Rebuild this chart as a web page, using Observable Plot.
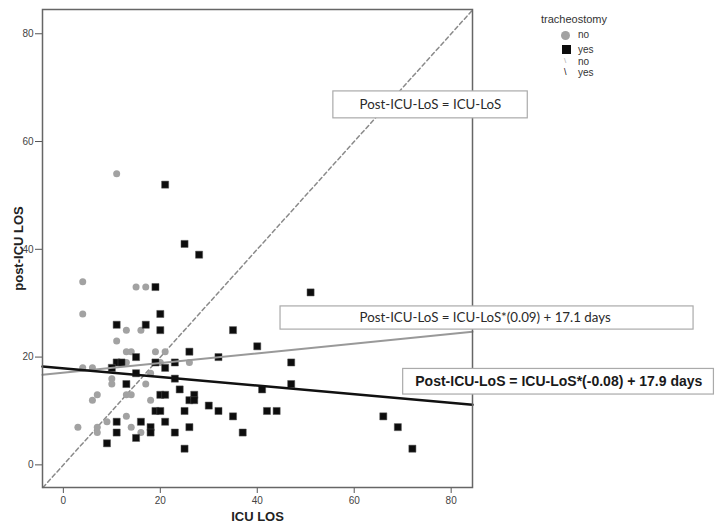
<!DOCTYPE html>
<html><head><meta charset="utf-8">
<script src="https://cdn.jsdelivr.net/npm/d3@7"></script>
<script src="https://cdn.jsdelivr.net/npm/@observablehq/plot@0.6"></script>
<style>
body{margin:0;background:#fff;}
#wrap{position:relative;width:725px;height:529px;overflow:hidden;}
#legend{position:absolute;left:0;top:0;width:725px;height:120px;font-family:"Liberation Sans",Arial,sans-serif;color:#333;pointer-events:none;}
#legend span{position:absolute;white-space:nowrap;}
</style></head><body><div id="wrap"></div>
<script>
// tracheostomy = no (grey circles)
const noX = [4, 4, 15, 17, 13, 16, 11, 13, 14, 19, 21, 4, 6, 13, 20, 26, 18, 10, 10, 17, 6, 7, 13, 14, 18, 13, 3, 7, 9, 14, 7, 16, 11];
const noY = [34, 28, 33, 33, 25, 25, 23, 21, 21, 21, 21, 18, 18, 19, 19, 19, 17, 16, 15, 15, 12, 13, 13, 13, 12, 9, 7, 7, 8, 7, 6, 6, 54];
// tracheostomy = yes (black squares)
const yesX = [19, 11, 17, 20, 20, 15, 26, 11, 12, 10, 19, 23, 21, 32, 15, 13, 23, 24, 20, 21, 26, 27, 27, 30, 32, 19, 20, 25, 21, 11, 16, 18, 18, 11, 15, 23, 26, 9, 25, 21, 25, 28, 51, 35, 40, 47, 47, 41, 42, 44, 35, 37, 66, 69, 72];
const yesY = [33, 26, 26, 28, 25, 20, 21, 19, 19, 18, 19, 19, 18, 20, 17, 15, 16, 14, 13, 13, 12, 13, 12, 11, 10, 10, 10, 10, 8, 8, 8, 7, 6, 6, 5, 6, 7, 4, 3, 52, 41, 39, 32, 25, 22, 19, 15, 14, 10, 10, 9, 6, 9, 7, 3];
// fitted lines (from the annotations)
const fitGroups = ["no", "yes"];
const fitSlopes = [0.09, -0.08];
const fitIntercepts = [17.1, 17.9];
const fitLabels = ["Post-ICU-LoS = ICU-LoS*(0.09) + 17.1 days", "Post-ICU-LoS = ICU-LoS*(-0.08) + 17.9 days"];
const identityLabel = "Post-ICU-LoS = ICU-LoS";
const xTicks = [0, 20, 40, 60, 80];
const yTicks = [0, 20, 40, 60, 80];
const xTitle = "ICU LOS";
const yTitle = "post-ICU LOS";
const legendTitle = "tracheostomy";
const legendLabels = ["no", "yes"];

const xDomain = [-4.3, 84.4];
const yDomain = [-4.2, 84.5];

const noData = noX.map((x, i) => ({x, y: noY[i]}));
const yesData = yesX.map((x, i) => ({x, y: yesY[i]}));
const fitData = fitGroups.flatMap((g, i) => xDomain.map(x => ({g, x, y: fitSlopes[i] * x + fitIntercepts[i]})));
const identData = [{x: yDomain[0], y: yDomain[0]}, {x: xDomain[1], y: xDomain[1]}];

const boxes = [
  {x1: 55.7, x2: 95.8, y1: 64.3, y2: 69.3, tx: 75.7, ty: 66.8, text: identityLabel, bold: false},
  {x1: 44.8, x2: 130.0, y1: 25.1, y2: 29.4, tx: 87.0, ty: 27.25, text: fitLabels[0], bold: false},
  {x1: 70.1, x2: 134.2, y1: 13.05, y2: 17.8, tx: 102.2, ty: 15.45, text: fitLabels[1], bold: true}
];

const plot = Plot.plot({
  width: 725, height: 529,
  marginLeft: 42, marginRight: 253, marginTop: 9, marginBottom: 42,
  x: {domain: xDomain},
  y: {domain: yDomain},
  style: {fontFamily: "'Liberation Sans', Arial, sans-serif", fontSize: "10px", color: "#444", background: "white", overflow: "visible"},
  marks: [
    Plot.axisX({ticks: xTicks, tickSize: 6, tickPadding: 3, label: null, stroke: "#555"}),
    Plot.axisY({ticks: yTicks, tickSize: 7, tickPadding: 2, label: null, stroke: "#555"}),
    Plot.text([xTitle], {frameAnchor: "bottom", dy: 29, lineAnchor: "middle", fontWeight: "bold", fontSize: 13, fill: "#222"}),
    Plot.text([yTitle], {frameAnchor: "left", dx: -24, rotate: -90, textAnchor: "middle", lineAnchor: "middle", fontWeight: "bold", fontSize: 13, fill: "#222"}),
    Plot.line(identData, {x: "x", y: "y", stroke: "#8a8a8a", strokeWidth: 1.5, strokeDasharray: "4,3"}),
    Plot.dot(noData, {x: "x", y: "y", r: 3.5, fill: "#a2a2a2"}),
    Plot.dot(yesData, {x: "x", y: "y", symbol: "square", r: 4, fill: "#0d0d0d", stroke: "#555", strokeWidth: 0.5}),
    Plot.line(fitData, {x: "x", y: "y", z: "g", stroke: d => d.g === "no" ? "#999" : "#111", strokeWidth: d => d.g === "no" ? 2 : 2.5}),
    Plot.frame({stroke: "#666", strokeWidth: 1.5}),
    Plot.rect(boxes, {x1: "x1", x2: "x2", y1: "y1", y2: "y2", fill: "white", stroke: "#aaa", strokeWidth: 1.2}),
    Plot.text(boxes.filter(b => !b.bold), {x: "tx", y: "ty", text: "text", fontFamily: "Lato, 'Noto Sans', sans-serif", fontSize: 13.3, fill: "#2a2a2a"}),
    Plot.text(boxes.filter(b => b.bold), {x: "tx", y: "ty", text: "text", fontWeight: "bold", fontSize: 14, fill: "#1a1a1a"})
  ]
});

const wrap = document.getElementById("wrap");
wrap.appendChild(plot);

const legend = document.createElement("div");
legend.id = "legend";
legend.innerHTML = `
  <span style="left:541px;top:13px;font-size:11px;line-height:13px;">${legendTitle}</span>
  <span style="left:561px;top:30.5px;width:9px;height:9px;border-radius:50%;background:#a2a2a2;"></span>
  <span style="left:578px;top:29px;font-size:10px;line-height:12px;">${legendLabels[0]}</span>
  <span style="left:561.5px;top:45px;width:9px;height:9px;background:#0d0d0d;"></span>
  <span style="left:578px;top:44px;font-size:10px;line-height:12px;">${legendLabels[1]}</span>
  <span style="left:564px;top:56px;font-size:8px;line-height:10px;color:#aaa;">\\</span>
  <span style="left:578px;top:56px;font-size:10px;line-height:12px;">${legendLabels[0]}</span>
  <span style="left:564px;top:67px;font-size:9px;line-height:11px;color:#111;">\\</span>
  <span style="left:578px;top:67px;font-size:10px;line-height:12px;">${legendLabels[1]}</span>
`;
wrap.appendChild(legend);
</script>
</body></html>
